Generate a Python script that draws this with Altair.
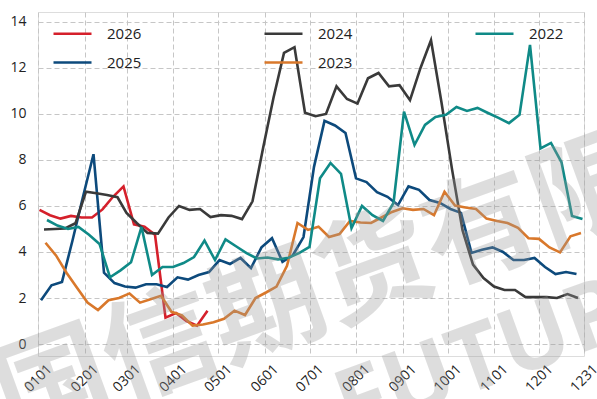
import altair as alt
import pandas as pd

# Weekly (Friday) readings for each year
years = ["2026", "2025", "2024", "2023", "2022"]
first_friday = {
    "2026": "2026-01-02",
    "2025": "2025-01-03",
    "2024": "2024-01-05",
    "2023": "2023-01-06",
    "2022": "2022-01-07",
}

v2026 = [5.83, 5.6, 5.45, 5.57, 5.5, 5.5, 5.85, 6.4, 6.85, 5.2, 5.1, 4.75,
         1.15, 1.35, 1.0, 0.8, 1.45]

v2025 = [1.9, 2.55, 2.7, 4.5, 6.4, 8.25, 3.1, 2.65, 2.5, 2.45, 2.6, 2.6,
         2.48, 2.9, 2.8, 3.0, 3.13, 3.65, 3.48, 3.74, 3.3, 4.2, 4.6, 3.57,
         3.87, 4.65, 7.7, 9.7, 9.5, 9.17, 7.2, 7.04, 6.6, 6.4, 6.04, 6.85,
         6.7, 6.26, 6.13, 5.87, 5.7, 3.96, 4.1, 4.2, 4.0, 3.65, 3.65, 3.74,
         3.35, 3.04, 3.13, 3.04]

v2024 = [4.98, 5.0, 5.02, 5.25, 6.62, 6.55, 6.48, 6.38, 5.7, 5.25, 4.83, 4.8,
         5.5, 6.0, 5.83, 5.87, 5.52, 5.6, 5.57, 5.43, 6.2, 8.5, 10.7, 12.65,
         12.9, 10.05, 9.9, 10.0, 11.2, 10.65, 10.45, 11.55, 11.78, 11.2, 11.25, 10.6,
         12.0, 13.2, 10.5, 7.6, 4.95, 3.45, 2.87, 2.5, 2.35, 2.35, 2.04, 2.04,
         2.04, 2.0, 2.17, 2.0]

v2023 = [4.4, 3.85, 3.1, 2.45, 1.8, 1.48, 1.9, 2.0, 2.2, 1.8, 1.95, 2.1,
         1.4, 1.25, 0.8, 0.85, 0.95, 1.1, 1.45, 1.26, 2.0, 2.24, 2.5, 3.4,
         5.26, 4.96, 5.1, 4.65, 4.78, 5.35, 5.28, 5.26, 5.5, 5.74, 5.9, 5.83,
         5.87, 5.6, 6.62, 6.02, 5.93, 5.87, 5.45, 5.35, 5.26, 5.05, 4.6, 4.57,
         4.2, 3.98, 4.68, 4.83]

v2022 = [5.39, 5.15, 5.0, 5.09, 4.75, 4.35, 2.9, 3.2, 3.55, 5.09, 3.0, 3.35,
         3.35, 3.52, 3.78, 4.5, 3.65, 4.55, 4.25, 3.95, 3.72, 3.76, 3.68, 3.75,
         3.95, 4.22, 7.2, 7.87, 7.4, 5.04, 6.0, 5.6, 5.35, 6.13, 10.1, 8.65,
         9.52, 9.87, 9.96, 10.3, 10.13, 10.26, 10.04, 9.83, 9.6, 9.96, 13.0, 8.5,
         8.74, 7.9, 5.57, 5.43]

series = {"2026": v2026, "2025": v2025, "2024": v2024, "2023": v2023, "2022": v2022}
colors = ["#d5202b", "#0d4a7c", "#3a3a3a", "#d9782b", "#0f8a87"]

# Month-start ticks on a common (non-leap) calendar
tick_days = [0, 31, 59, 90, 120, 151, 181, 212, 243, 273, 304, 334, 364]
tick_labels = ["0101", "0201", "0301", "0401", "0501", "0601", "0701",
               "0801", "0901", "1001", "1101", "1201", "1231"]
y_ticks = [0, 2, 4, 6, 8, 10, 12, 14]

# Watermark lines
mark_cn = "国信期货有限"
mark_en = "FUTURES"

rows = []
for y in years:
    dates = pd.date_range(first_friday[y], periods=len(series[y]), freq="7D")
    for i, (d, v) in enumerate(zip(dates, series[y])):
        day = pd.Timestamp(2021, d.month, d.day).dayofyear - 1
        rows.append({"year": y, "day": int(day), "value": v, "idx": i})
df = pd.DataFrame(rows)

label_expr = (
    "[" + ",".join(f"'{t}'" for t in tick_labels) + "]"
    + "[indexof([" + ",".join(str(t) for t in tick_days) + "], datum.value)]"
)

font = "Open Sans"
grid_kw = dict(grid=True, gridDash=[5, 3], gridColor="#c6c6c6", gridWidth=1,
               domain=False, ticks=False, labelFontSize=14, labelColor="#222222",
               labelFont=font, labelOverlap=False, labelFlush=False, title=None)

lines = alt.Chart(df).mark_line(strokeWidth=2.6, strokeJoin="miter", clip=True).encode(
    x=alt.X(
        "day:Q",
        scale=alt.Scale(domain=[0, 364], nice=False, zero=False),
        axis=alt.Axis(
            values=tick_days,
            labelExpr=label_expr,
            labelAngle=315,
            labelAlign="center",
            labelBaseline="middle",
            labelPadding=22,
            labelBound=False,
            **grid_kw,
        ),
    ),
    y=alt.Y(
        "value:Q",
        scale=alt.Scale(domain=[-0.52, 14.43], nice=False, zero=False),
        axis=alt.Axis(values=y_ticks, labelPadding=12, **grid_kw),
    ),
    color=alt.Color(
        "year:N",
        scale=alt.Scale(domain=years, range=colors),
        legend=alt.Legend(
            title=None,
            orient="none",
            legendX=14,
            legendY=1,
            columns=3,
            columnPadding=117,
            rowPadding=-25,
            symbolType="stroke",
            symbolSize=1444,
            symbolStrokeWidth=2.6,
            labelFontSize=15,
            labelFont=font,
            labelColor="#222222",
            labelOffset=14,
        ),
    ),
    detail="year:N",
    order="idx:Q",
)

wm_cn = alt.Chart(pd.DataFrame({"t": [mark_cn]})).mark_text(
    font="Noto Sans CJK SC", fontWeight="bold", fontSize=114, angle=340,
    color="#999999", opacity=0.32, align="center", baseline="middle",
).encode(text="t:N", x=alt.value(284), y=alt.value(280))

wm_en = alt.Chart(pd.DataFrame({"t": [mark_en]})).mark_text(
    font="Noto Sans", fontWeight="bold", fontSize=92, angle=340,
    color="#999999", opacity=0.32, align="center", baseline="middle",
).encode(text="t:N", x=alt.value(492), y=alt.value(330))

chart = alt.layer(lines, wm_cn, wm_en).properties(
    width=546,
    height=344,
    autosize=alt.AutoSizeParams(type="none"),
    padding={"left": 38, "top": 12, "right": 13, "bottom": 43},
).configure_view(
    stroke="#cccccc",
    strokeWidth=1.5,
).configure(background="white")

chart.save("out.html", embed_options={"renderer": "svg", "actions": False})
